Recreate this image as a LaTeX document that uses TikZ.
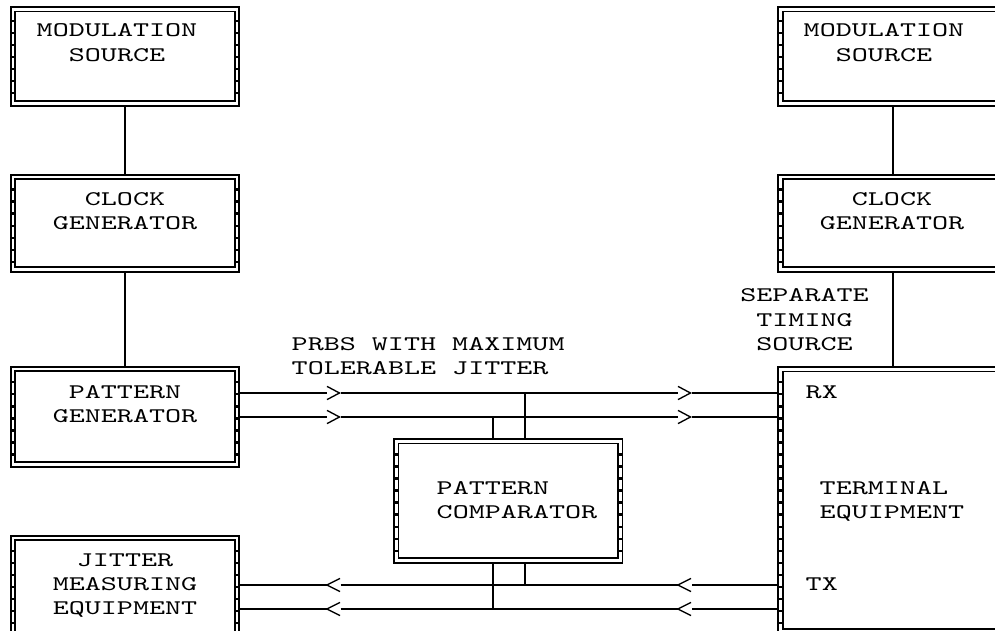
\documentclass[tikz,border=0pt]{standalone}
\usepackage{fontspec}
\newfontfamily\dg{lmmono10-regular.otf}[FakeStretch=1.47]
\newcommand\edgeticks[4]{%
  \begin{scope}
    \clip ({#1-5},{#3}) rectangle ({#2+5},{#4});
    \foreach \k in {0,...,53}{
      \fill ({#1-2.3},{9+12.04*\k-1.2}) rectangle ({#1+2.3},{9+12.04*\k+1.2});
      \fill ({#2-2.3},{9+12.04*\k-1.2}) rectangle ({#2+2.3},{9+12.04*\k+1.2});
    }
  \end{scope}}
\begin{document}
\begin{tikzpicture}[x=1bp,y=-1bp,
  box/.style={draw, double, double distance=2.7bp, line width=1.8bp, rectangle, inner sep=0pt, outer sep=3.15bp},
  lbl/.style={inner sep=0pt, font=\dg\fontsize{20.8bp}{24bp}\selectfont, anchor=base},
  lblw/.style={lbl, anchor=base west},
  wire/.style={line width=1.9bp},
  chev/.style={line width=1.35bp, line join=miter}]
\clip (0,0) rectangle (995,631);
\fill[white] (0,0) rectangle (995,631);
% boxes
\node[box, minimum width=224bp, minimum height=94.2bp] (msL) at (125,56.4) {};
\node[box, minimum width=224bp, minimum height=92.5bp] (ckL) at (125,223.25) {};
\node[box, minimum width=224bp, minimum height=95.5bp] (pgL) at (125,416.75) {};
\node[box, minimum width=224bp, minimum height=162bp] (jmL) at (125,619) {};
\node[box, minimum width=229.6bp, minimum height=94.2bp] (msR) at (895.2,56.4) {};
\node[box, minimum width=229.6bp, minimum height=92.5bp] (ckR) at (895.2,223.25) {};
\node[box, minimum width=229.6bp, minimum height=262bp] (te) at (895.2,500.2) {};
\node[box, minimum width=224.1bp, minimum height=119.3bp] (pc) at (508.25,500.85) {};
% edge ticks
\edgeticks{13}{237}{14}{99}
\edgeticks{13}{237}{182}{265}
\edgeticks{13}{237}{374}{460}
\edgeticks{13}{237}{543}{640}
\edgeticks{780.4}{1010}{14}{99}
\edgeticks{780.4}{1010}{182}{265}
\edgeticks{780.4}{1010}{374}{627}
\edgeticks{396.2}{620.3}{446}{556}
% vertical connectors
\coordinate (xr) at (893,0);
\draw[wire] (msL.south) -- (ckL.north);
\draw[wire] (ckL.south) -- (pgL.north);
\draw[wire] (msR.south -| xr) -- (ckR.north -| xr);
\draw[wire] (ckR.south -| xr) -- (te.north -| xr);
% glyph positions
\coordinate (g1) at (327,393);
\coordinate (g2) at (678,393);
\coordinate (g3) at (327,417);
\coordinate (g4) at (678,417);
\coordinate (g5) at (327,585);
\coordinate (g6) at (678,585);
\coordinate (g7) at (327,609);
\coordinate (g8) at (678,609);
% forward wires
\draw[wire] (pgL.east |- g1) -- (g1);
\draw[wire] ([xshift=13.5bp]g1) -- (g2);
\draw[wire] ([xshift=14bp]g2) -- (te.west |- g2);
\draw[wire] (pgL.east |- g3) -- (g3);
\draw[wire] ([xshift=13.5bp]g3) -- (g4);
\draw[wire] ([xshift=14bp]g4) -- (te.west |- g4);
\foreach \g in {g1,g2,g3,g4}{
  \draw[chev] (\g) ++(0,-6.6) -- ++(12.5,6.6) -- ++(-12.5,6.6);
}
% return wires
\draw[wire] (jmL.east |- g5) -- (g5);
\draw[wire] ([xshift=13.5bp]g5) -- (g6);
\draw[wire] ([xshift=14bp]g6) -- (te.west |- g6);
\draw[wire] (jmL.east |- g7) -- (g7);
\draw[wire] ([xshift=13.5bp]g7) -- (g8);
\draw[wire] ([xshift=14bp]g8) -- (te.west |- g8);
\foreach \g in {g5,g6,g7,g8}{
  \draw[chev] (\g) ++(13,-6.6) -- ++(-13,6.6) -- ++(13,6.6);
}
% comparator taps
\coordinate (va) at (493,0);
\coordinate (vb) at (525,0);
\draw[wire] (pc.north -| vb) -- (vb |- g1);
\draw[wire] (pc.north -| va) -- (va |- g3);
\draw[wire] (pc.south -| vb) -- (vb |- g5);
\draw[wire] (pc.south -| va) -- (va |- g7);
% labels
\node[lbl] (t1) at (117,37) {MODULATION};
\node[lbl] (t2) at (117,61.1) {SOURCE};
\node[lbl] (t3) at (125,205.6) {CLOCK};
\node[lbl] (t4) at (125,229.6) {GENERATOR};
\node[lbl] (t5) at (125,398.2) {PATTERN};
\node[lbl] (t6) at (125,422.3) {GENERATOR};
\node[lbl] (t7) at (125,566.8) {JITTER};
\node[lbl] (t8) at (125,590.8) {MEASURING};
\node[lbl] (t9) at (125,614.9) {EQUIPMENT};
\node[lbl] (t10) at (884,37) {MODULATION};
\node[lbl] (t11) at (884,61.1) {SOURCE};
\node[lbl] (t12) at (892,205.6) {CLOCK};
\node[lbl] (t13) at (892,229.6) {GENERATOR};
\node[lbl] (t14) at (804.5,301.9) {SEPARATE};
\node[lbl] (t15) at (804.5,326) {TIMING};
\node[lbl] (t16) at (804.5,350) {SOURCE};
\node[lblw] (t17) at (291.5,350) {PRBS WITH MAXIMUM};
\node[lblw] (t18) at (291.5,374.1) {TOLERABLE JITTER};
\node[lblw] (t19) at (805.5,398.2) {RX};
\node[lblw] (t20) at (805.5,590.8) {TX};
\node[lblw] (t21) at (436.5,494.5) {PATTERN};
\node[lblw] (t22) at (436.5,518.6) {COMPARATOR};
\node[lblw] (t23) at (819.5,494.5) {TERMINAL};
\node[lblw] (t24) at (819.5,518.6) {EQUIPMENT};
\end{tikzpicture}
\end{document}
